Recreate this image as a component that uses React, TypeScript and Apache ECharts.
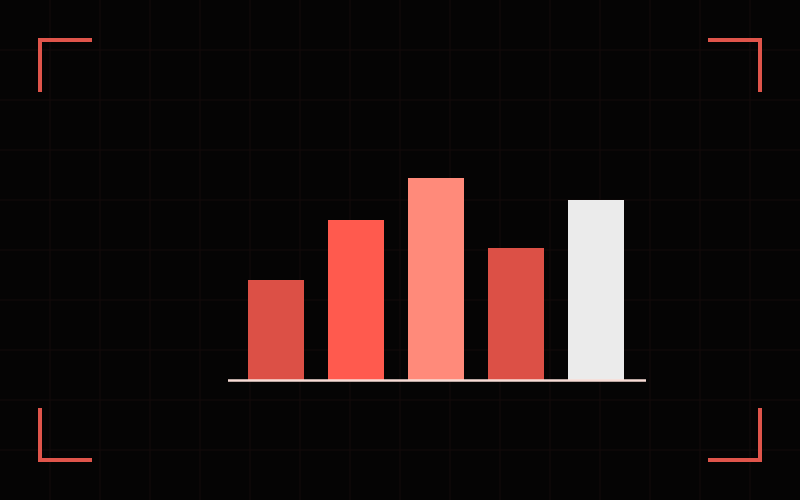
import { useEffect, useRef } from 'react';
import * as echarts from 'echarts';

const categories = ['A', 'B', 'C', 'D', 'E'];
const values = [50, 80, 101, 66, 90];
const barColors = ['#dc5046', '#ff5a4e', '#ff8a7a', '#dc5046', '#ebebeb'];

const BG = '#050404';
const GRIDLINE = '#150b0b';
const ACCENT = '#e0554b';

function decorations() {
  const items: any[] = [];
  // faint background grid, every 50px
  for (let x = 50; x < 800; x += 50) {
    items.push({
      type: 'line',
      silent: true,
      shape: { x1: x, y1: 0, x2: x, y2: 500 },
      style: { stroke: GRIDLINE, lineWidth: 1 },
      z: -10,
    });
  }
  for (let y = 50; y < 500; y += 50) {
    items.push({
      type: 'line',
      silent: true,
      shape: { x1: 0, y1: y, x2: 800, y2: y },
      style: { stroke: GRIDLINE, lineWidth: 1 },
      z: -10,
    });
  }
  // corner brackets
  const corners = [
    [[40, 92], [40, 40], [92, 40]],
    [[708, 40], [760, 40], [760, 92]],
    [[40, 408], [40, 460], [92, 460]],
    [[708, 460], [760, 460], [760, 408]],
  ];
  corners.forEach(points => {
    items.push({
      type: 'polyline',
      silent: true,
      shape: { points },
      style: { stroke: ACCENT, lineWidth: 4, fill: 'none', lineJoin: 'miter', lineCap: 'butt' },
    });
  });
  // baseline
  items.push({
    type: 'line',
    silent: true,
    shape: { x1: 228, y1: 380.5, x2: 646, y2: 380.5 },
    style: { stroke: '#f8dcd6', lineWidth: 2.5 },
    z: 100,
  });
  return items;
}

export default function App() {
  const ref = useRef<HTMLDivElement | null>(null);

  useEffect(() => {
    if (!ref.current) return;
    const chart = echarts.init(ref.current, undefined, { renderer: 'svg' });

    chart.setOption({
      animation: false,
      backgroundColor: BG,
      grid: { left: 236, right: 164, top: 160, bottom: 120 },
      xAxis: {
        type: 'category',
        data: categories,
        axisLine: { show: false },
        axisTick: { show: false },
        axisLabel: { show: false },
        splitLine: { show: false },
      },
      yAxis: {
        type: 'value',
        min: 0,
        max: 110,
        axisLine: { show: false },
        axisTick: { show: false },
        axisLabel: { show: false },
        splitLine: { show: false },
      },
      graphic: decorations(),
      series: [
        {
          type: 'bar',
          barWidth: 56,
          data: values.map((v, i) => ({ value: v, itemStyle: { color: barColors[i] } })),
        },
      ],
    });

    return () => chart.dispose();
  }, []);

  return (
    <div
      ref={ref}
      style={{ position: 'fixed', left: 0, top: 0, width: 800, height: 500 }}
    />
  );
}
